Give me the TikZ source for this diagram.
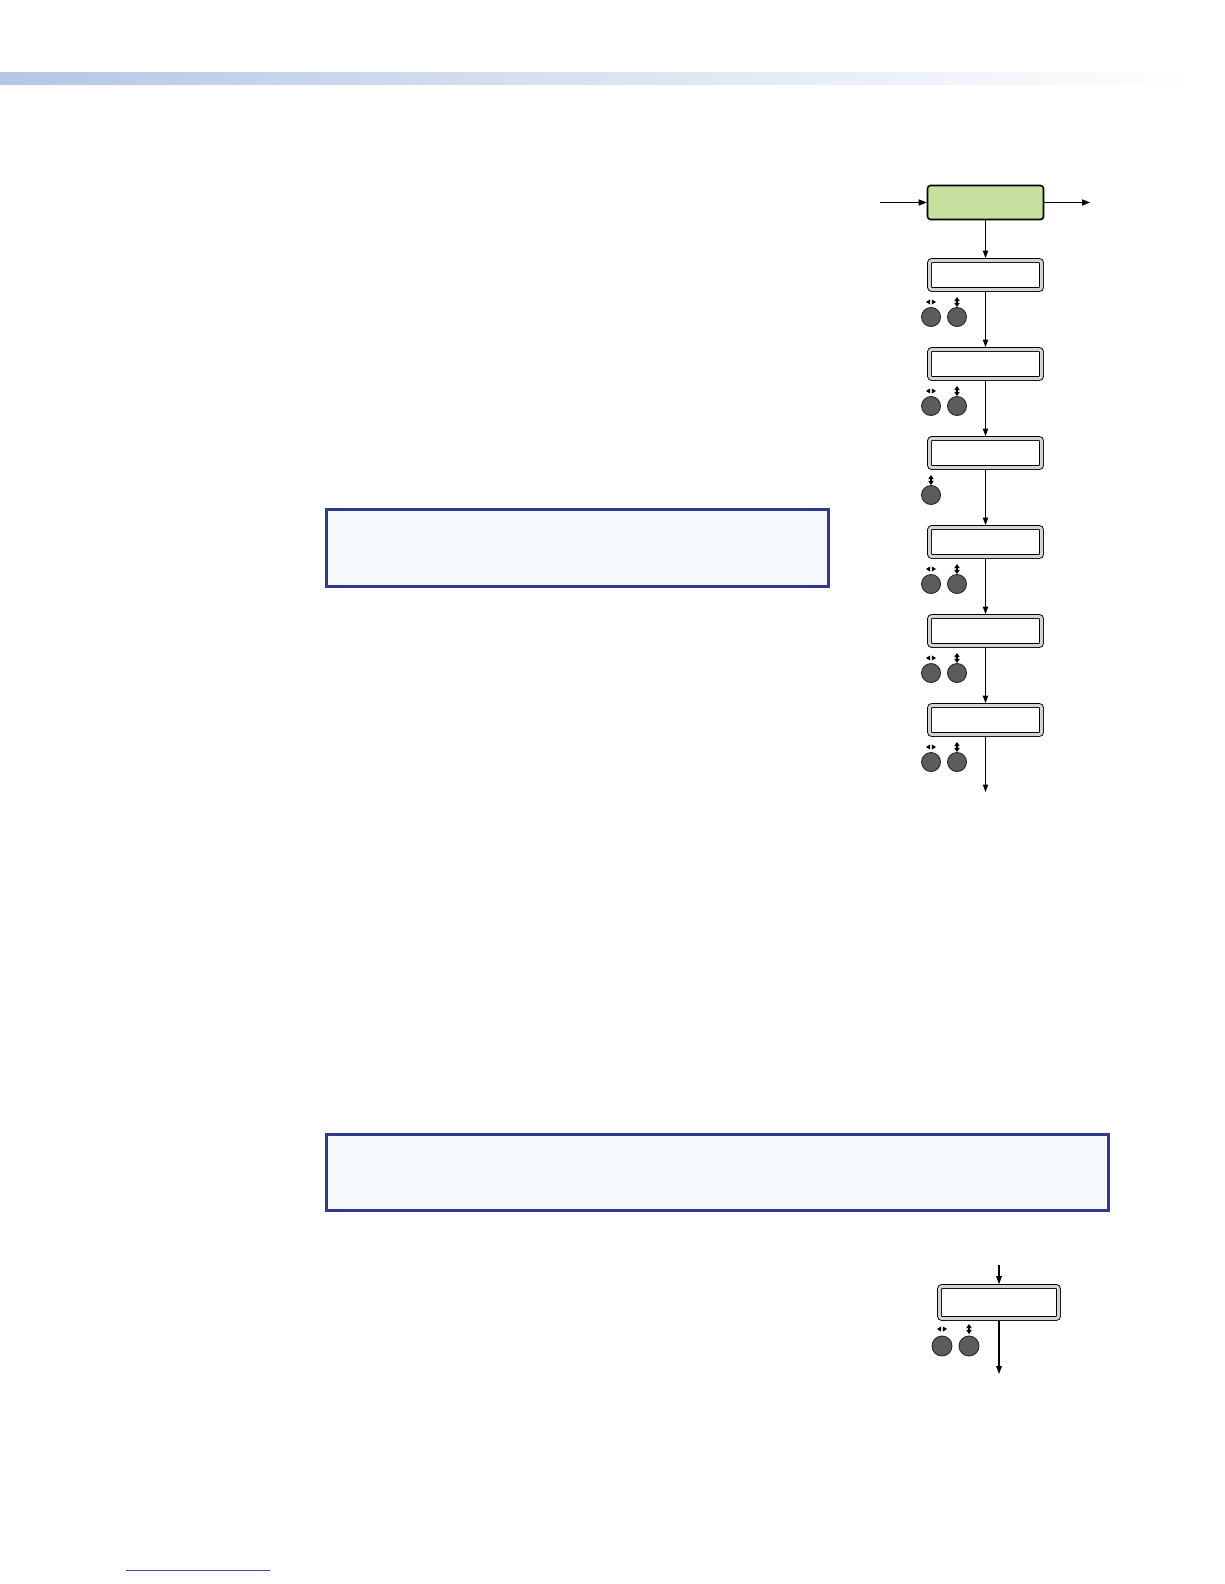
\documentclass[tikz,border=0pt]{standalone}
\definecolor{lcdgreen}{RGB}{197,224,159}
\definecolor{bezel}{RGB}{212,212,212}
\definecolor{knobgray}{RGB}{92,92,92}
\definecolor{noteline}{RGB}{46,58,140}
\definecolor{notefill}{RGB}{245,249,252}
\definecolor{barleft}{RGB}{180,198,232}
\definecolor{barmid}{RGB}{218,227,241}
\definecolor{linkblue}{RGB}{60,80,170}

\begin{document}
\begin{tikzpicture}[x=1pt,y=-1pt]
    \tikzstyle{every node}+=[inner sep=0pt]
    \tikzstyle{menu}=[draw=black, line width=1.6pt, fill=lcdgreen, rounded corners=3pt, minimum width=116pt, minimum height=34pt]
    \tikzstyle{lcd}=[draw=black, line width=0.9pt, double=bezel, double distance=3pt, fill=white, rounded corners=2.5pt, minimum width=112pt, minimum height=29pt, outer sep=2.4pt]
    \tikzstyle{knob}=[circle, draw=black!85, line width=0.9pt, fill=knobgray, minimum size=19pt]
    \tikzset{
      lr/.pic={\fill (-0.8,-2.6) -- (-5,0) -- (-0.8,2.6) -- cycle;
               \fill (0.8,-2.6) -- (5,0) -- (0.8,2.6) -- cycle;},
      ud/.pic={\fill (-2.8,-0.9) -- (0,-5) -- (2.8,-0.9) -- cycle;
               \fill (-2.8,0.9) -- (0,5) -- (2.8,0.9) -- cycle;
               \fill (-0.7,-1) rectangle (0.7,1);}
    }
    \useasboundingbox (0,0) rectangle (1224,1584);
    % page header and footer
    \shade [left color=barleft, right color=white, middle color=barmid] (0,73) rectangle (1192,85);
    \draw [linkblue, line width=0.8pt] (126,1570) -- (270,1570);
    % note boxes
    \draw [noteline, line width=3pt, fill=notefill] (326.5,509.5) rectangle (828,586);
    \draw [noteline, line width=3pt, fill=notefill] (326.5,1134.5) rectangle (1108,1210);
    % menu chain
    \node [menu] (top) at (985.5,202.5) {};
    \node [lcd] (s1) at (985.5,275) {};
    \node [lcd] (s2) at (985.5,364) {};
    \node [lcd] (s3) at (985.5,453) {};
    \node [lcd] (s4) at (985.5,542) {};
    \node [lcd] (s5) at (985.5,631) {};
    \node [lcd] (s6) at (985.5,720) {};
    \coordinate (in) at (880,202.5);
    \coordinate (out) at (1090,202.5);
    \coordinate (end) at (985.5,792);
    % knobs
    \node [knob] (k1a) at (931,317) {};
    \node [knob] (k1b) at (957,317) {};
    \pic at (931,302) {lr};
    \pic at (957,302) {ud};
    \node [knob] (k2a) at (931,406) {};
    \node [knob] (k2b) at (957,406) {};
    \pic at (931,391) {lr};
    \pic at (957,391) {ud};
    \node [knob] (k3a) at (931,495) {};
    \pic at (931,480) {ud};
    \node [knob] (k4a) at (931,584) {};
    \node [knob] (k4b) at (957,584) {};
    \pic at (931,569) {lr};
    \pic at (957,569) {ud};
    \node [knob] (k5a) at (931,673) {};
    \node [knob] (k5b) at (957,673) {};
    \pic at (931,658) {lr};
    \pic at (957,658) {ud};
    \node [knob] (k6a) at (931,762) {};
    \node [knob] (k6b) at (957,762) {};
    \pic at (931,747) {lr};
    \pic at (957,747) {ud};
    % connectors
    \draw [black, line width=1.8pt, shorten >=4pt] (in) -- (top.west);
    \fill [black] (top.west) -- ++(-8,-3.2) -- ++(0,6.4) -- cycle;
    \draw [black, line width=1.8pt, shorten >=4pt] (top.east) -- (out);
    \fill [black] (out) -- ++(-8,-3.2) -- ++(0,6.4) -- cycle;
    \draw [black, line width=1.1pt, shorten >=3pt] (top.south) -- (s1.north);
    \fill [black] (s1.north) -- ++(-2.8,-7.5) -- ++(5.6,0) -- cycle;
    \draw [black, line width=1.1pt, shorten >=3pt] (s1.south) -- (s2.north);
    \fill [black] (s2.north) -- ++(-2.8,-7.5) -- ++(5.6,0) -- cycle;
    \draw [black, line width=1.1pt, shorten >=3pt] (s2.south) -- (s3.north);
    \fill [black] (s3.north) -- ++(-2.8,-7.5) -- ++(5.6,0) -- cycle;
    \draw [black, line width=1.1pt, shorten >=3pt] (s3.south) -- (s4.north);
    \fill [black] (s4.north) -- ++(-2.8,-7.5) -- ++(5.6,0) -- cycle;
    \draw [black, line width=1.1pt, shorten >=3pt] (s4.south) -- (s5.north);
    \fill [black] (s5.north) -- ++(-2.8,-7.5) -- ++(5.6,0) -- cycle;
    \draw [black, line width=1.1pt, shorten >=3pt] (s5.south) -- (s6.north);
    \fill [black] (s6.north) -- ++(-2.8,-7.5) -- ++(5.6,0) -- cycle;
    \draw [black, line width=1.1pt, shorten >=3pt] (s6.south) -- (end);
    \fill [black] (end) -- ++(-2.8,-7.5) -- ++(5.6,0) -- cycle;
    % single step below the notes
    \node [lcd, minimum width=119pt, minimum height=32pt] (s7) at (999,1302.5) {};
    \node [knob, minimum size=20pt] (k7a) at (942,1346) {};
    \node [knob, minimum size=20pt] (k7b) at (969,1346) {};
    \pic at (942,1329) {lr};
    \pic at (969,1329) {ud};
    \coordinate (in7) at (999,1265);
    \coordinate (out7) at (999,1374);
    \draw [black, line width=1.2pt, shorten >=3pt] (in7) -- (s7.north);
    \fill [black] (s7.north) -- ++(-3,-8) -- ++(6,0) -- cycle;
    \draw [black, line width=1.2pt, shorten >=3pt] (s7.south) -- (out7);
    \fill [black] (out7) -- ++(-3,-8) -- ++(6,0) -- cycle;
\end{tikzpicture}
\end{document}
